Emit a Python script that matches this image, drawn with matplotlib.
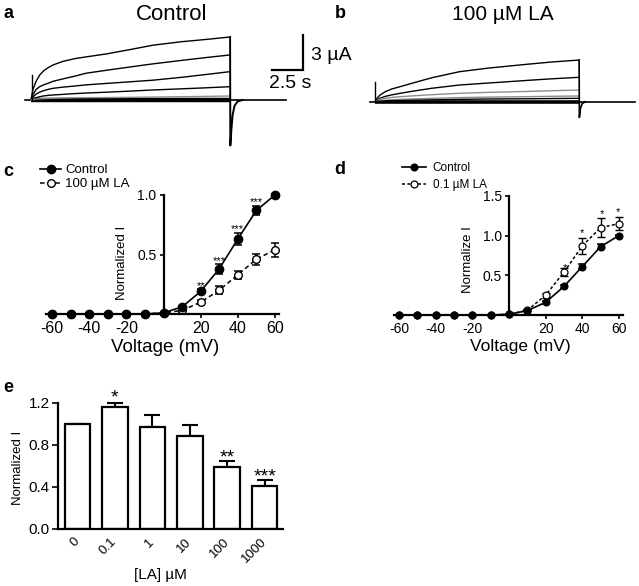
import matplotlib
matplotlib.use('Agg')
import matplotlib.pyplot as plt

plt.rcParams['font.family'] = ['Liberation Sans', 'DejaVu Sans']

# ---------------- data ----------------
# Panel a: current traces (uA) vs time (s), control
trace_t_a = [0, 0.15, 0.4, 0.7, 1.0, 1.4, 1.75, 2.5, 3.5, 4.4, 6, 8, 9.7, 12, 14, 15.8]
control_traces = [
    [0, 0.9, 1.6, 2.15, 2.5, 2.8, 3.0, 3.3, 3.55, 3.7, 3.95, 4.35, 4.7, 5.0, 5.2, 5.4],
    [0, 0.45, 0.9, 1.15, 1.3, 1.45, 1.6, 1.8, 2.05, 2.3, 2.55, 2.85, 3.1, 3.4, 3.65, 3.86],
    [0, 0.25, 0.5, 0.68, 0.8, 0.92, 1.0, 1.1, 1.2, 1.3, 1.42, 1.57, 1.7, 1.95, 2.2, 2.43],
    [0, 0.1, 0.2, 0.28, 0.35, 0.4, 0.43, 0.48, 0.55, 0.6, 0.67, 0.77, 0.86, 0.96, 1.05, 1.14],
    [0, 0.04, 0.08, 0.1, 0.12, 0.14, 0.15, 0.17, 0.19, 0.2, 0.21, 0.23, 0.25, 0.28, 0.31, 0.34],
]
control_trace_grey = [False, False, False, False, True]
tail_t_a = [15.8, 15.82, 15.9, 16.0, 16.15, 16.4, 16.8]
tail_i_a = [5.4, -3.9, -2.6, -1.3, -0.5, -0.12, 0]

# Panel b: current traces, 100 uM LA
trace_t_b = [0, 0.2, 0.4, 0.8, 1.3, 2.0, 3, 4.5, 6.7, 9, 12, 14, 16.2]
la_traces = [
    [0, 0.35, 0.57, 0.85, 1.08, 1.29, 1.6, 2.05, 2.57, 2.88, 3.2, 3.4, 3.57],
    [0, 0.18, 0.3, 0.45, 0.58, 0.72, 0.9, 1.15, 1.43, 1.6, 1.82, 1.96, 2.09],
    [0, 0.12, 0.2, 0.28, 0.36, 0.43, 0.5, 0.6, 0.72, 0.8, 0.88, 0.94, 1.0],
    [0, 0.05, 0.08, 0.12, 0.16, 0.2, 0.24, 0.29, 0.35, 0.39, 0.43, 0.46, 0.49],
    [0, 0.03, 0.05, 0.07, 0.09, 0.1, 0.13, 0.16, 0.2, 0.23, 0.25, 0.27, 0.29],
]
la_trace_grey = [False, False, True, True, False]
tail_t_b = [16.2, 16.22, 16.3, 16.45, 16.7]
tail_i_b = [3.57, -1.35, -0.6, -0.15, 0]

# Panel c: I-V, control vs 100 uM LA
voltage = [-60, -50, -40, -30, -20, -10, 0, 10, 20, 30, 40, 50, 60]
c_control = [0, 0, 0, 0, 0, 0, 0.01, 0.06, 0.19, 0.38, 0.63, 0.87, 1.0]
c_control_err = [0, 0, 0, 0, 0, 0, 0, 0.01, 0.02, 0.04, 0.05, 0.035, 0.01]
c_la = [0, 0, 0, 0, 0, 0, 0.01, 0.03, 0.10, 0.20, 0.33, 0.46, 0.54]
c_la_err = [0, 0, 0, 0, 0, 0, 0, 0.01, 0.015, 0.035, 0.035, 0.045, 0.06]
c_star_v = [20, 30, 40, 50, 60]
c_star_y = [0.25, 0.46, 0.73, 0.96, 1.08]
c_star_txt = ['**', '***', '***', '***', '***']

# Panel d: I-V, control vs 0.1 uM LA
d_control = [0, 0, 0, 0, 0, 0, 0.01, 0.055, 0.16, 0.36, 0.61, 0.86, 1.0]
d_control_err = [0, 0, 0, 0, 0, 0, 0, 0.01, 0.015, 0.015, 0.03, 0.03, 0.01]
d_la = [0, 0, 0, 0, 0, 0, 0.01, 0.06, 0.25, 0.54, 0.87, 1.10, 1.15]
d_la_err = [0, 0, 0, 0, 0, 0, 0, 0.01, 0.03, 0.05, 0.10, 0.12, 0.08]
d_star_v = [30.5, 40, 50.5, 59.5]
d_star_y = [0.62, 1.05, 1.30, 1.32]

# Panel e: concentration-response bars
la_conc = ['0', '0.1', '1', '10', '100', '1000']
e_values = [1.0, 1.16, 0.966, 0.88, 0.585, 0.41]
e_err = [0, 0.04, 0.12, 0.11, 0.065, 0.055]
e_stars = ['', '*', '', '', '**', '***']
e_star_y = [0, 1.28, 0, 0, 0.715, 0.535]

# ---------------- layout helpers ----------------
W, H = 639, 586
fig = plt.figure(figsize=(W / 100, H / 100), dpi=100)


def rect(l, t, r, b):
    return [l / W, 1 - b / H, (r - l) / W, (b - t) / H]


def fxy(x, y):
    return (x / W, 1 - y / H)


def star(ax, x, yc, s, fs):
    ax.annotate(s, xy=(x, yc), xytext=(0, -0.45 * fs), textcoords='offset points',
                ha='center', va='baseline', fontsize=fs)


# ---------------- panel a ----------------
px_s, px_ua = 12.6, 11.67
axa = fig.add_axes(rect(20, 25, 320, 150))
axa.set_xlim((20 - 31) / px_s, (320 - 31) / px_s)
axa.set_ylim((100 - 150) / px_ua, (100 - 25) / px_ua)
axa.axis('off')
axa.plot([-0.48, 20.2], [0, 0], color='black', lw=1.2)
axa.plot([0, 15.8], [0, 0], color='black', lw=3.2, solid_capstyle='butt')
for tr, g in zip(control_traces, control_trace_grey):
    axa.plot(trace_t_a, tr, color='0.55' if g else 'black', lw=1.0)
axa.plot([0.05, 0.05], [0, 2.1], color='black', lw=1.0)
axa.plot(tail_t_a, tail_i_a, color='black', lw=1.4)
# scale bar
axa.plot([19.1, 21.6, 21.6], [2.57, 2.57, 5.57], color='black', lw=1.6,
         solid_joinstyle='miter')
fig.text(*fxy(311, 55), '3 \u00b5A', fontsize=14, ha='left', va='center')
fig.text(*fxy(290, 84), '2.5 s', fontsize=14, ha='center', va='center')

# ---------------- panel b ----------------
axb = fig.add_axes(rect(330, 25, 639, 150))
axb.set_xlim((330 - 375) / px_s, (639 - 375) / px_s)
axb.set_ylim((101.7 - 150) / px_ua, (101.7 - 25) / px_ua)
axb.axis('off')
axb.plot([-0.4, 20.6], [0, 0], color='black', lw=1.2)
axb.plot([0, 16.2], [0, 0], color='black', lw=2.6, solid_capstyle='butt')
for tr, g in zip(la_traces, la_trace_grey):
    axb.plot(trace_t_b, tr, color='0.55' if g else 'black', lw=1.0)
axb.plot([0.0, 0.0], [0, 1.7], color='black', lw=1.0)
axb.plot(tail_t_b, tail_i_b, color='black', lw=1.2)

# titles and panel letters
fig.text(*fxy(172, 14), 'Control', fontsize=16, ha='center', va='center')
fig.text(*fxy(503, 14), '100 \u00b5M LA', fontsize=15, ha='center', va='center')
for lab, x, y in [('a', 8, 14), ('b', 340, 14), ('c', 8, 172), ('d', 340, 170), ('e', 8, 388)]:
    fig.text(*fxy(x, y), lab, fontsize=13, fontweight='bold', ha='center', va='center')


def iv_axes(ax, ytop, yticks):
    for s in ['top', 'right']:
        ax.spines[s].set_visible(False)
    ax.spines['left'].set_position(('data', 0))
    ax.spines['bottom'].set_position(('data', 0))
    ax.spines['left'].set_bounds(0, ytop)
    ax.spines['bottom'].set_bounds(-63, 62)
    for s in ['left', 'bottom']:
        ax.spines[s].set_linewidth(1.6)
    ax.set_xticks([-60, -40, -20, 20, 40, 60])
    ax.set_xticklabels(['-60', '-40', '-20', '20', '40', '60'])
    ax.set_yticks(yticks)
    ax.set_yticklabels(['%.1f' % v for v in yticks])
    ax.tick_params(axis='both', direction='out', length=3, width=1.2, pad=2)
    ax.patch.set_alpha(0)


# ---------------- panel c ----------------
axc = fig.add_axes(rect(44.6, 189, 282.4, 320))
axc.set_xlim(-64, 64)
axc.set_ylim(-0.05, 1.05)
iv_axes(axc, 1.0, [0.5, 1.0])
axc.tick_params(axis='x', labelsize=11.5)
axc.tick_params(axis='y', labelsize=10)
axc.errorbar(voltage, c_la, yerr=c_la_err, fmt='none', ecolor='black', elinewidth=1.1,
             capsize=3, capthick=1.1)
l_c_la, = axc.plot(voltage, c_la, '--o', color='black', mfc='white', mec='black',
                   ms=5.5, lw=1.1, mew=1.0, dashes=(3, 2))
axc.errorbar(voltage, c_control, yerr=c_control_err, fmt='none', ecolor='black',
             elinewidth=1.1, capsize=3, capthick=1.1)
l_c_ctl, = axc.plot(voltage, c_control, '-o', color='black', ms=6, lw=1.2)
for v, y, s in zip(c_star_v, c_star_y, c_star_txt):
    star(axc, v, y, s, 8)
fig.text(*fxy(122, 263), 'Normalized I', rotation=90, fontsize=9.5, ha='center', va='center')
fig.text(*fxy(165, 347), 'Voltage (mV)', fontsize=13.5, ha='center', va='center')
fig.legend([l_c_ctl, l_c_la], ['Control', '100 \u00b5M LA'], loc='upper left',
           bbox_to_anchor=fxy(40, 164), frameon=False, fontsize=9.5, handlelength=1.6,
           handletextpad=0.3, labelspacing=0.15, borderpad=0, borderaxespad=0)

# ---------------- panel d ----------------
axd = fig.add_axes(rect(391.7, 191.8, 626.3, 320.6))
axd.set_xlim(-64, 64)
axd.set_ylim(-0.07, 1.55)
iv_axes(axd, 1.5, [0.5, 1.0, 1.5])
axd.tick_params(axis='both', labelsize=10)
axd.errorbar(voltage, d_la, yerr=d_la_err, fmt='none', ecolor='black', elinewidth=1.0,
             capsize=3, capthick=1.0)
l_d_la, = axd.plot(voltage, d_la, '--o', color='black', mfc='white', mec='black',
                   ms=5, lw=1.1, mew=0.9, dashes=(2, 1.5))
axd.errorbar(voltage, d_control, yerr=d_control_err, fmt='none', ecolor='black',
             elinewidth=1.1, capsize=3, capthick=1.1)
l_d_ctl, = axd.plot(voltage, d_control, '-o', color='black', ms=4.8, lw=1.2)
for v, y in zip(d_star_v, d_star_y):
    star(axd, v, y, '*', 8)
fig.text(*fxy(468, 260), 'Normalize I', rotation=90, fontsize=9.5, ha='center', va='center')
fig.text(*fxy(520, 347), 'Voltage (mV)', fontsize=12.5, ha='center', va='center')
fig.legend([l_d_ctl, l_d_la], ['Control', '0.1 \u00b5M LA'], loc='upper left',
           bbox_to_anchor=fxy(402, 162), frameon=False, fontsize=8.5, handlelength=2.0,
           handletextpad=0.6, labelspacing=0.45, borderpad=0, borderaxespad=0)

# ---------------- panel e ----------------
axe = fig.add_axes(rect(58, 392.1, 283, 529))
xs = list(range(len(la_conc)))
axe.bar(xs, e_values, width=0.68, color='white', edgecolor='black', linewidth=1.6, zorder=2)
axe.errorbar(xs, e_values, yerr=[[0] * len(e_err), e_err], fmt='none', ecolor='black',
             elinewidth=1.5, capsize=6, capthick=1.5, zorder=1)
axe.set_xlim(-0.52, 5.49)
axe.set_ylim(0, 1.3)
for s in ['top', 'right']:
    axe.spines[s].set_visible(False)
axe.spines['left'].set_bounds(0, 1.2)
for s in ['left', 'bottom']:
    axe.spines[s].set_linewidth(1.6)
axe.set_yticks([0.0, 0.4, 0.8, 1.2])
axe.set_yticklabels(['0.0', '0.4', '0.8', '1.2'])
axe.tick_params(axis='y', direction='out', length=4, width=1.2, labelsize=11, pad=2)
axe.set_xticks(xs)
axe.set_xticklabels(la_conc, rotation=45, ha='right', va='center', rotation_mode='anchor')
axe.tick_params(axis='x', length=0, labelsize=9.5, pad=8)
for x, s, y in zip(xs, e_stars, e_star_y):
    if s:
        star(axe, x, y, s, 14)
fig.text(*fxy(18, 468), 'Normalized I', rotation=90, fontsize=9.5, ha='center', va='center')
fig.text(*fxy(160, 575), '[LA] \u00b5M', fontsize=11, ha='center', va='center')

fig.savefig('out.png', dpi=100)
